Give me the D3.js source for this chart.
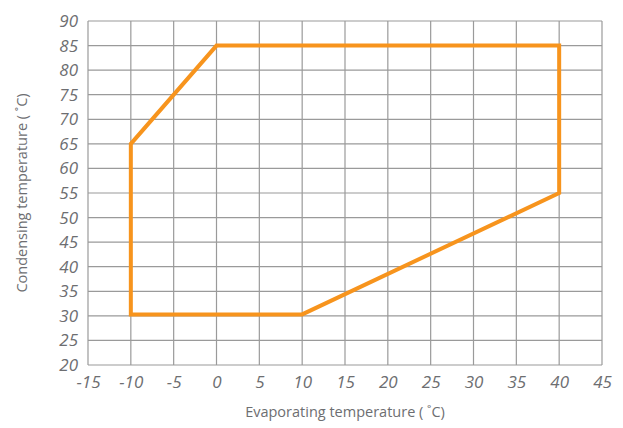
<!DOCTYPE html>
<html>
<head>
<meta charset="utf-8">
<script src="https://cdn.jsdelivr.net/npm/d3@7"></script>
<style>
  body { margin: 0; background: #fff; }
  #chart { width: 623px; height: 428px; }
  text { font-family: "Open Sans", "Noto Sans", sans-serif; fill: #6d6e71; }
</style>
</head>
<body>
<div id="chart"></div>
<script>
// envelope corners (evaporating, condensing)
const evapTemps = [-10, 10, 40, 40, 0, -10];
const condTemps = [30.3, 30.3, 55, 85, 85, 65];
const xTicks = [-15, -10, -5, 0, 5, 10, 15, 20, 25, 30, 35, 40, 45];
const yTicks = [20, 25, 30, 35, 40, 45, 50, 55, 60, 65, 70, 75, 80, 85, 90];

const margin = {top: 21, right: 21, bottom: 63, left: 88};
const width_svg = 623, height_svg = 428;

const svg = d3.select('#chart').append('svg')
  .attr('width', width_svg)
  .attr('height', height_svg);

const xScale = d3.scaleLinear()
  .domain([-15, 45])
  .range([margin.left, width_svg - margin.right]);
const yScale = d3.scaleLinear()
  .domain([20, 90])
  .range([height_svg - margin.bottom, margin.top]);

// grid
svg.append('g')
  .selectAll('line')
  .data(xTicks)
  .enter().append('line')
    .attr('x1', d => xScale(d)).attr('x2', d => xScale(d))
    .attr('y1', yScale(20)).attr('y2', yScale(90))
    .attr('stroke', '#9a9a9a').attr('stroke-width', 1.2);
svg.append('g')
  .selectAll('line')
  .data(yTicks)
  .enter().append('line')
    .attr('y1', d => yScale(d)).attr('y2', d => yScale(d))
    .attr('x1', xScale(-15)).attr('x2', xScale(45))
    .attr('stroke', '#9a9a9a').attr('stroke-width', 1.2);

// axes labels (plain hyphen for negatives)
const fmt = d => String(d);
let xAxis = g => g.attr('transform', `translate(0, ${height_svg - margin.bottom})`)
  .call(d3.axisBottom(xScale).tickValues(xTicks).tickFormat(fmt).tickSize(0).tickPadding(11))
  .call(g => g.select('.domain').remove())
  .call(g => g.selectAll('.tick text')
              .attr('font-size', 17)
              .attr('font-style', 'italic')
              .attr('fill', '#6d6e71'));
let yAxis = g => g.attr('transform', `translate(${margin.left}, 0)`)
  .call(d3.axisLeft(yScale).tickValues(yTicks).tickFormat(fmt).tickSize(0).tickPadding(10))
  .call(g => g.select('.domain').remove())
  .call(g => g.selectAll('.tick text')
              .attr('font-size', 17)
              .attr('font-style', 'italic')
              .attr('fill', '#6d6e71'));
svg.append('g').call(xAxis).attr('font-family', null);
svg.append('g').call(yAxis).attr('font-family', null);

svg.append('text')
  .attr('x', (xScale(-15) + xScale(45)) / 2)
  .attr('y', 417)
  .attr('text-anchor', 'middle')
  .attr('font-size', 14.5)
  .text('Evaporating temperature ( \u02DAC)');
svg.append('text')
  .attr('transform', `translate(27, ${(yScale(20) + yScale(90)) / 2}) rotate(-90)`)
  .attr('text-anchor', 'middle')
  .attr('font-size', 14.5)
  .text('Condensing temperature ( \u02DAC)');

// envelope
const pts = evapTemps.map((d, i) => [d, condTemps[i]]);
const line = d3.line()
  .x(d => xScale(d[0]))
  .y(d => yScale(d[1]))
  .curve(d3.curveLinearClosed);
svg.append('path')
  .attr('d', line(pts))
  .attr('fill', 'none')
  .attr('stroke', '#f7941d')
  .attr('stroke-width', 4)
  .attr('stroke-linejoin', 'miter');
</script>
</body>
</html>
